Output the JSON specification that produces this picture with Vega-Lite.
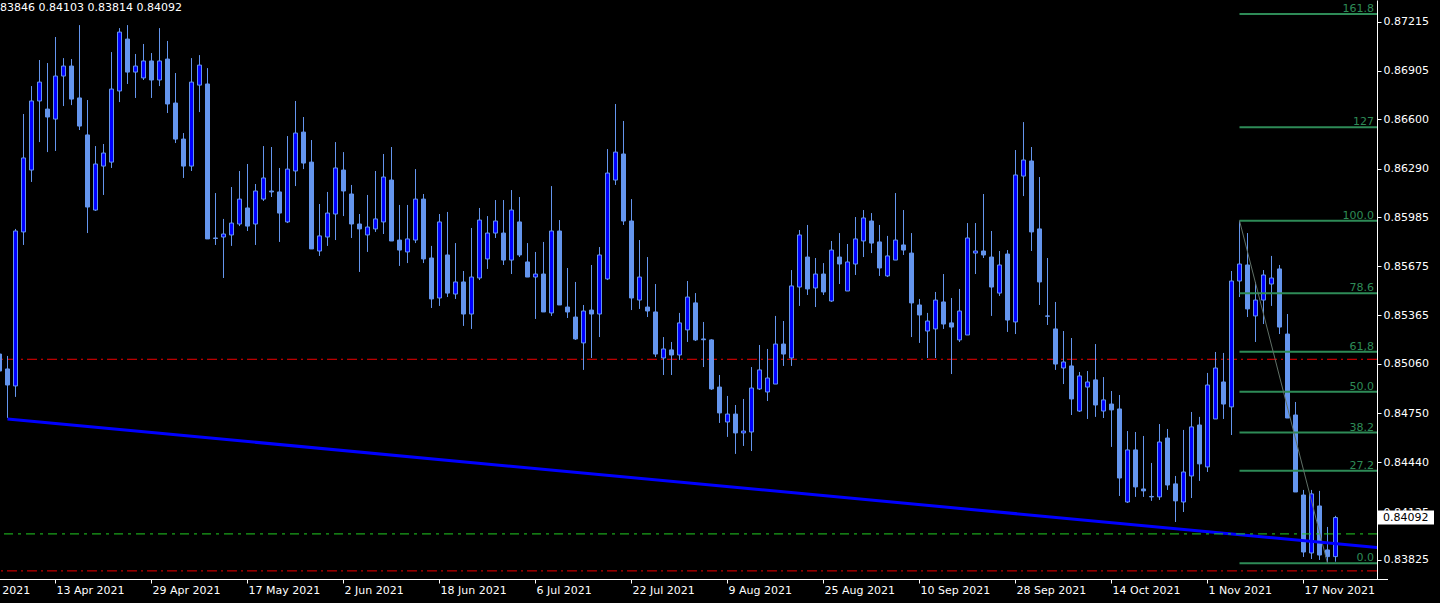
{
"$schema": "https://vega.github.io/schema/vega-lite/v6.json",
"width": 1377, "height": 579,
"autosize": {"type": "none"},
"padding": {"left": 0, "top": 0, "right": 63, "bottom": 24},
"background": "#000000",
"config": {"view": {"stroke": null}, "axis": {"grid": false}},
"title": {"text": "0.83846 0.84103 0.83814 0.84092", "anchor": "start", "frame": "group", "orient": "top", "offset": -22, "dx": -10.5, "color": "#ffffff", "font": "DejaVu Sans", "fontSize": 11, "fontWeight": "normal", "baseline": "alphabetic"},
"datasets": {
"candles": [
{"d":"2021-04-02","o":0.85122,"h":0.85148,"l":0.84990,"c":0.85015},
{"d":"2021-04-05","o":0.85028,"h":0.85110,"l":0.84719,"c":0.84927},
{"d":"2021-04-06","o":0.84921,"h":0.85910,"l":0.84852,"c":0.85897},
{"d":"2021-04-07","o":0.85891,"h":0.86634,"l":0.85809,"c":0.86357},
{"d":"2021-04-08","o":0.86281,"h":0.86810,"l":0.86206,"c":0.86716},
{"d":"2021-04-09","o":0.86716,"h":0.86974,"l":0.86457,"c":0.86835},
{"d":"2021-04-12","o":0.86665,"h":0.86955,"l":0.86394,"c":0.86615},
{"d":"2021-04-13","o":0.86602,"h":0.87119,"l":0.86401,"c":0.86873},
{"d":"2021-04-14","o":0.86873,"h":0.86986,"l":0.86684,"c":0.86936},
{"d":"2021-04-15","o":0.86936,"h":0.86980,"l":0.86690,"c":0.86728},
{"d":"2021-04-16","o":0.86735,"h":0.87194,"l":0.86533,"c":0.86558},
{"d":"2021-04-19","o":0.86502,"h":0.86722,"l":0.85884,"c":0.86048},
{"d":"2021-04-20","o":0.86029,"h":0.86432,"l":0.86023,"c":0.86319},
{"d":"2021-04-21","o":0.86306,"h":0.86445,"l":0.86124,"c":0.86388},
{"d":"2021-04-22","o":0.86331,"h":0.87024,"l":0.86294,"c":0.86791},
{"d":"2021-04-23","o":0.86779,"h":0.87175,"l":0.86709,"c":0.87150},
{"d":"2021-04-26","o":0.87106,"h":0.87194,"l":0.86823,"c":0.86898},
{"d":"2021-04-27","o":0.86898,"h":0.87012,"l":0.86735,"c":0.86936},
{"d":"2021-04-28","o":0.86861,"h":0.87075,"l":0.86848,"c":0.86968},
{"d":"2021-04-29","o":0.86968,"h":0.87018,"l":0.86735,"c":0.86848},
{"d":"2021-04-30","o":0.86848,"h":0.87175,"l":0.86810,"c":0.86968},
{"d":"2021-05-03","o":0.86980,"h":0.87094,"l":0.86640,"c":0.86697},
{"d":"2021-05-04","o":0.86703,"h":0.86892,"l":0.86451,"c":0.86476},
{"d":"2021-05-05","o":0.86476,"h":0.86514,"l":0.86231,"c":0.86306},
{"d":"2021-05-06","o":0.86306,"h":0.86986,"l":0.86275,"c":0.86835},
{"d":"2021-05-07","o":0.86816,"h":0.87005,"l":0.86646,"c":0.86942},
{"d":"2021-05-10","o":0.86823,"h":0.86923,"l":0.85847,"c":0.85847},
{"d":"2021-05-11","o":0.85853,"h":0.86136,"l":0.85809,"c":0.85850},
{"d":"2021-05-12","o":0.85859,"h":0.85973,"l":0.85601,"c":0.85878},
{"d":"2021-05-13","o":0.85872,"h":0.86174,"l":0.85803,"c":0.85947},
{"d":"2021-05-14","o":0.85941,"h":0.86275,"l":0.85928,"c":0.86098},
{"d":"2021-05-17","o":0.86042,"h":0.86319,"l":0.85897,"c":0.85928},
{"d":"2021-05-18","o":0.85941,"h":0.86193,"l":0.85809,"c":0.86149},
{"d":"2021-05-19","o":0.86098,"h":0.86432,"l":0.86086,"c":0.86231},
{"d":"2021-05-20","o":0.86149,"h":0.86426,"l":0.86111,"c":0.86143},
{"d":"2021-05-21","o":0.86143,"h":0.86294,"l":0.85828,"c":0.86010},
{"d":"2021-05-24","o":0.85954,"h":0.86495,"l":0.85947,"c":0.86287},
{"d":"2021-05-25","o":0.86275,"h":0.86716,"l":0.86180,"c":0.86514},
{"d":"2021-05-26","o":0.86520,"h":0.86615,"l":0.86287,"c":0.86325},
{"d":"2021-05-27","o":0.86331,"h":0.86470,"l":0.85784,"c":0.85784},
{"d":"2021-05-28","o":0.85771,"h":0.86067,"l":0.85740,"c":0.85866},
{"d":"2021-05-31","o":0.85859,"h":0.86143,"l":0.85803,"c":0.86010},
{"d":"2021-06-01","o":0.86004,"h":0.86457,"l":0.85840,"c":0.86294},
{"d":"2021-06-02","o":0.86281,"h":0.86394,"l":0.85991,"c":0.86149},
{"d":"2021-06-03","o":0.86130,"h":0.86187,"l":0.85853,"c":0.85941},
{"d":"2021-06-04","o":0.85941,"h":0.86004,"l":0.85639,"c":0.85910},
{"d":"2021-06-07","o":0.85872,"h":0.86124,"l":0.85765,"c":0.85922},
{"d":"2021-06-08","o":0.85910,"h":0.86275,"l":0.85891,"c":0.85973},
{"d":"2021-06-09","o":0.85954,"h":0.86382,"l":0.85878,"c":0.86237},
{"d":"2021-06-10","o":0.86218,"h":0.86426,"l":0.85834,"c":0.85834},
{"d":"2021-06-11","o":0.85840,"h":0.86061,"l":0.85677,"c":0.85777},
{"d":"2021-06-14","o":0.85765,"h":0.86061,"l":0.85695,"c":0.85847},
{"d":"2021-06-15","o":0.85840,"h":0.86287,"l":0.85821,"c":0.86098},
{"d":"2021-06-16","o":0.86098,"h":0.86130,"l":0.85695,"c":0.85721},
{"d":"2021-06-17","o":0.85727,"h":0.85803,"l":0.85412,"c":0.85469},
{"d":"2021-06-18","o":0.85475,"h":0.86004,"l":0.85425,"c":0.85954},
{"d":"2021-06-21","o":0.85746,"h":0.86017,"l":0.85481,"c":0.85506},
{"d":"2021-06-22","o":0.85500,"h":0.85821,"l":0.85469,"c":0.85576},
{"d":"2021-06-23","o":0.85576,"h":0.85645,"l":0.85299,"c":0.85374},
{"d":"2021-06-24","o":0.85374,"h":0.85916,"l":0.85280,"c":0.85607},
{"d":"2021-06-25","o":0.85601,"h":0.86042,"l":0.85588,"c":0.85966},
{"d":"2021-06-28","o":0.85721,"h":0.85991,"l":0.85658,"c":0.85884},
{"d":"2021-06-29","o":0.85884,"h":0.86092,"l":0.85853,"c":0.85960},
{"d":"2021-06-30","o":0.85884,"h":0.86092,"l":0.85683,"c":0.85714},
{"d":"2021-07-01","o":0.85714,"h":0.86155,"l":0.85626,"c":0.86029},
{"d":"2021-07-02","o":0.85954,"h":0.86111,"l":0.85733,"c":0.85746},
{"d":"2021-07-05","o":0.85702,"h":0.85821,"l":0.85607,"c":0.85607},
{"d":"2021-07-06","o":0.85607,"h":0.85765,"l":0.85343,"c":0.85626},
{"d":"2021-07-07","o":0.85626,"h":0.85828,"l":0.85387,"c":0.85387},
{"d":"2021-07-08","o":0.85381,"h":0.86180,"l":0.85362,"c":0.85897},
{"d":"2021-07-09","o":0.85897,"h":0.85966,"l":0.85431,"c":0.85431},
{"d":"2021-07-12","o":0.85418,"h":0.85664,"l":0.85349,"c":0.85387},
{"d":"2021-07-13","o":0.85355,"h":0.85576,"l":0.85211,"c":0.85217},
{"d":"2021-07-14","o":0.85192,"h":0.85431,"l":0.85022,"c":0.85393},
{"d":"2021-07-15","o":0.85399,"h":0.85683,"l":0.85097,"c":0.85374},
{"d":"2021-07-16","o":0.85374,"h":0.85796,"l":0.85229,"c":0.85746},
{"d":"2021-07-19","o":0.85595,"h":0.86413,"l":0.85588,"c":0.86262},
{"d":"2021-07-20","o":0.86218,"h":0.86697,"l":0.86187,"c":0.86394},
{"d":"2021-07-21","o":0.86382,"h":0.86590,"l":0.85935,"c":0.85960},
{"d":"2021-07-22","o":0.85960,"h":0.86098,"l":0.85399,"c":0.85475},
{"d":"2021-07-23","o":0.85462,"h":0.85840,"l":0.85406,"c":0.85607},
{"d":"2021-07-26","o":0.85418,"h":0.85733,"l":0.85355,"c":0.85393},
{"d":"2021-07-27","o":0.85387,"h":0.85563,"l":0.85103,"c":0.85122},
{"d":"2021-07-28","o":0.85097,"h":0.85229,"l":0.84990,"c":0.85154},
{"d":"2021-07-29","o":0.85148,"h":0.85198,"l":0.84990,"c":0.85116},
{"d":"2021-07-30","o":0.85116,"h":0.85381,"l":0.85085,"c":0.85318},
{"d":"2021-08-02","o":0.85274,"h":0.85582,"l":0.85198,"c":0.85481},
{"d":"2021-08-03","o":0.85444,"h":0.85506,"l":0.85204,"c":0.85211},
{"d":"2021-08-04","o":0.85217,"h":0.85324,"l":0.85040,"c":0.85212},
{"d":"2021-08-05","o":0.85211,"h":0.85215,"l":0.84896,"c":0.84902},
{"d":"2021-08-06","o":0.84914,"h":0.84990,"l":0.84688,"c":0.84751},
{"d":"2021-08-09","o":0.84694,"h":0.84858,"l":0.84600,"c":0.84744},
{"d":"2021-08-10","o":0.84744,"h":0.84801,"l":0.84493,"c":0.84625},
{"d":"2021-08-11","o":0.84625,"h":0.84839,"l":0.84543,"c":0.84637},
{"d":"2021-08-12","o":0.84631,"h":0.85040,"l":0.84511,"c":0.84908},
{"d":"2021-08-13","o":0.84902,"h":0.85179,"l":0.84896,"c":0.85022},
{"d":"2021-08-16","o":0.84883,"h":0.85154,"l":0.84826,"c":0.84971},
{"d":"2021-08-17","o":0.84933,"h":0.85362,"l":0.84933,"c":0.85185},
{"d":"2021-08-18","o":0.85185,"h":0.85330,"l":0.85047,"c":0.85122},
{"d":"2021-08-19","o":0.85097,"h":0.85651,"l":0.85047,"c":0.85551},
{"d":"2021-08-20","o":0.85544,"h":0.85903,"l":0.85425,"c":0.85872},
{"d":"2021-08-23","o":0.85733,"h":0.85935,"l":0.85494,"c":0.85532},
{"d":"2021-08-24","o":0.85538,"h":0.85727,"l":0.85418,"c":0.85626},
{"d":"2021-08-25","o":0.85626,"h":0.85695,"l":0.85494,"c":0.85513},
{"d":"2021-08-26","o":0.85456,"h":0.85834,"l":0.85450,"c":0.85777},
{"d":"2021-08-27","o":0.85733,"h":0.85884,"l":0.85563,"c":0.85689},
{"d":"2021-08-30","o":0.85519,"h":0.85815,"l":0.85519,"c":0.85702},
{"d":"2021-08-31","o":0.85689,"h":0.85985,"l":0.85620,"c":0.85847},
{"d":"2021-09-01","o":0.85834,"h":0.86029,"l":0.85733,"c":0.85979},
{"d":"2021-09-02","o":0.85960,"h":0.86010,"l":0.85758,"c":0.85821},
{"d":"2021-09-03","o":0.85828,"h":0.85935,"l":0.85614,"c":0.85664},
{"d":"2021-09-06","o":0.85614,"h":0.85866,"l":0.85607,"c":0.85740},
{"d":"2021-09-07","o":0.85714,"h":0.86136,"l":0.85714,"c":0.85840},
{"d":"2021-09-08","o":0.85809,"h":0.86029,"l":0.85746,"c":0.85777},
{"d":"2021-09-09","o":0.85758,"h":0.85884,"l":0.85229,"c":0.85444},
{"d":"2021-09-10","o":0.85431,"h":0.85469,"l":0.85192,"c":0.85368},
{"d":"2021-09-13","o":0.85267,"h":0.85381,"l":0.85097,"c":0.85330},
{"d":"2021-09-14","o":0.85280,"h":0.85513,"l":0.85097,"c":0.85462},
{"d":"2021-09-15","o":0.85450,"h":0.85626,"l":0.85280,"c":0.85311},
{"d":"2021-09-16","o":0.85318,"h":0.85475,"l":0.84996,"c":0.85292},
{"d":"2021-09-17","o":0.85211,"h":0.85532,"l":0.85198,"c":0.85393},
{"d":"2021-09-20","o":0.85242,"h":0.85947,"l":0.85242,"c":0.85853},
{"d":"2021-09-21","o":0.85758,"h":0.85947,"l":0.85626,"c":0.85771},
{"d":"2021-09-22","o":0.85771,"h":0.86130,"l":0.85727,"c":0.85746},
{"d":"2021-09-23","o":0.85733,"h":0.85897,"l":0.85362,"c":0.85544},
{"d":"2021-09-24","o":0.85506,"h":0.85771,"l":0.85488,"c":0.85683},
{"d":"2021-09-27","o":0.85752,"h":0.85777,"l":0.85261,"c":0.85336},
{"d":"2021-09-28","o":0.85324,"h":0.86407,"l":0.85248,"c":0.86250},
{"d":"2021-09-29","o":0.86243,"h":0.86583,"l":0.86117,"c":0.86344},
{"d":"2021-09-30","o":0.86338,"h":0.86426,"l":0.85771,"c":0.85891},
{"d":"2021-10-01","o":0.85910,"h":0.86237,"l":0.85431,"c":0.85576},
{"d":"2021-10-04","o":0.85362,"h":0.85727,"l":0.85305,"c":0.85360},
{"d":"2021-10-05","o":0.85280,"h":0.85450,"l":0.85022,"c":0.85059},
{"d":"2021-10-06","o":0.85034,"h":0.85267,"l":0.84933,"c":0.85072},
{"d":"2021-10-07","o":0.85047,"h":0.85223,"l":0.84738,"c":0.84839},
{"d":"2021-10-08","o":0.84763,"h":0.85009,"l":0.84757,"c":0.84984},
{"d":"2021-10-11","o":0.84914,"h":0.85015,"l":0.84713,"c":0.84946},
{"d":"2021-10-12","o":0.84959,"h":0.85185,"l":0.84726,"c":0.84801},
{"d":"2021-10-13","o":0.84763,"h":0.84977,"l":0.84719,"c":0.84833},
{"d":"2021-10-14","o":0.84807,"h":0.84889,"l":0.84537,"c":0.84770},
{"d":"2021-10-15","o":0.84776,"h":0.84864,"l":0.84228,"c":0.84341},
{"d":"2021-10-18","o":0.84190,"h":0.84637,"l":0.84184,"c":0.84518},
{"d":"2021-10-19","o":0.84518,"h":0.84631,"l":0.84222,"c":0.84285},
{"d":"2021-10-20","o":0.84272,"h":0.84606,"l":0.84222,"c":0.84260},
{"d":"2021-10-21","o":0.84225,"h":0.84436,"l":0.84197,"c":0.84222},
{"d":"2021-10-22","o":0.84222,"h":0.84681,"l":0.84203,"c":0.84568},
{"d":"2021-10-25","o":0.84593,"h":0.84650,"l":0.84266,"c":0.84297},
{"d":"2021-10-26","o":0.84304,"h":0.84354,"l":0.84064,"c":0.84197},
{"d":"2021-10-27","o":0.84190,"h":0.84644,"l":0.84127,"c":0.84379},
{"d":"2021-10-28","o":0.84354,"h":0.84757,"l":0.84215,"c":0.84663},
{"d":"2021-10-29","o":0.84675,"h":0.84726,"l":0.84323,"c":0.84430},
{"d":"2021-11-01","o":0.84411,"h":0.85003,"l":0.84379,"c":0.84927},
{"d":"2021-11-02","o":0.84713,"h":0.85135,"l":0.84713,"c":0.85034},
{"d":"2021-11-03","o":0.84946,"h":0.85129,"l":0.84713,"c":0.84807},
{"d":"2021-11-04","o":0.84789,"h":0.85645,"l":0.84612,"c":0.85582},
{"d":"2021-11-05","o":0.85582,"h":0.85962,"l":0.85481,"c":0.85689},
{"d":"2021-11-08","o":0.85683,"h":0.85884,"l":0.85355,"c":0.85406},
{"d":"2021-11-09","o":0.85362,"h":0.85576,"l":0.85198,"c":0.85462},
{"d":"2021-11-10","o":0.85462,"h":0.85651,"l":0.85311,"c":0.85620},
{"d":"2021-11-11","o":0.85563,"h":0.85740,"l":0.85425,"c":0.85601},
{"d":"2021-11-12","o":0.85658,"h":0.85683,"l":0.85248,"c":0.85292},
{"d":"2021-11-15","o":0.85248,"h":0.85374,"l":0.84719,"c":0.84719},
{"d":"2021-11-16","o":0.84738,"h":0.84820,"l":0.84253,"c":0.84253},
{"d":"2021-11-17","o":0.84234,"h":0.84266,"l":0.83844,"c":0.83875},
{"d":"2021-11-18","o":0.83869,"h":0.84266,"l":0.83831,"c":0.84241},
{"d":"2021-11-19","o":0.84165,"h":0.84260,"l":0.83825,"c":0.83856},
{"d":"2021-11-22","o":0.83888,"h":0.84033,"l":0.83804,"c":0.83846},
{"d":"2021-11-23","o":0.83846,"h":0.84103,"l":0.83814,"c":0.84092}
],
"fib": [
{"lvl":"161.8","p":0.87264},{"lvl":"127","p":0.86550},{"lvl":"100.0","p":0.85962},{"lvl":"78.6","p":0.85505},{"lvl":"61,8","p":0.85137},{"lvl":"50.0","p":0.84885},{"lvl":"38.2","p":0.84627},{"lvl":"27.2","p":0.84387},{"lvl":"0.0","p":0.83804}
],
"hlines": [{"p":0.85089,"kind":"red"},{"p":0.83756,"kind":"red"},{"p":0.83989,"kind":"green"}],
"trend": [{"d":"2021-04-05","p":0.84713},{"d":"2021-12-01","p":0.83899}],
"fibdiag": [{"d":"2021-11-05","p":0.85962},{"d":"2021-11-22","p":0.83804}],
"last": [{"p":0.84092}]
},
"layer": [
{"data": {"name": "hlines"}, "transform": [{"filter": "datum.kind == 'red'"}],
 "mark": {"type": "rule", "color": "#F00000", "strokeWidth": 1, "strokeDash": [10, 4, 2, 4]},
 "encoding": {"y": {"field": "p", "type": "quantitative", "scale": {"domain": [0.83705, 0.87352], "nice": false, "zero": false}}}},
{"data": {"name": "candles"},
 "mark": {"type": "rule", "color": "#6495ED", "strokeWidth": 1},
 "encoding": {
  "x": {"field": "d", "type": "ordinal",
   "scale": {"type": "band", "paddingInner": 0, "paddingOuter": 0, "range": [-44.5, 1387.5],
    "domain": ["2021-03-26","2021-03-29","2021-03-30","2021-03-31","2021-04-01","2021-04-02","2021-04-05","2021-04-06","2021-04-07","2021-04-08","2021-04-09","2021-04-12","2021-04-13","2021-04-14","2021-04-15","2021-04-16","2021-04-19","2021-04-20","2021-04-21","2021-04-22","2021-04-23","2021-04-26","2021-04-27","2021-04-28","2021-04-29","2021-04-30","2021-05-03","2021-05-04","2021-05-05","2021-05-06","2021-05-07","2021-05-10","2021-05-11","2021-05-12","2021-05-13","2021-05-14","2021-05-17","2021-05-18","2021-05-19","2021-05-20","2021-05-21","2021-05-24","2021-05-25","2021-05-26","2021-05-27","2021-05-28","2021-05-31","2021-06-01","2021-06-02","2021-06-03","2021-06-04","2021-06-07","2021-06-08","2021-06-09","2021-06-10","2021-06-11","2021-06-14","2021-06-15","2021-06-16","2021-06-17","2021-06-18","2021-06-21","2021-06-22","2021-06-23","2021-06-24","2021-06-25","2021-06-28","2021-06-29","2021-06-30","2021-07-01","2021-07-02","2021-07-05","2021-07-06","2021-07-07","2021-07-08","2021-07-09","2021-07-12","2021-07-13","2021-07-14","2021-07-15","2021-07-16","2021-07-19","2021-07-20","2021-07-21","2021-07-22","2021-07-23","2021-07-26","2021-07-27","2021-07-28","2021-07-29","2021-07-30","2021-08-02","2021-08-03","2021-08-04","2021-08-05","2021-08-06","2021-08-09","2021-08-10","2021-08-11","2021-08-12","2021-08-13","2021-08-16","2021-08-17","2021-08-18","2021-08-19","2021-08-20","2021-08-23","2021-08-24","2021-08-25","2021-08-26","2021-08-27","2021-08-30","2021-08-31","2021-09-01","2021-09-02","2021-09-03","2021-09-06","2021-09-07","2021-09-08","2021-09-09","2021-09-10","2021-09-13","2021-09-14","2021-09-15","2021-09-16","2021-09-17","2021-09-20","2021-09-21","2021-09-22","2021-09-23","2021-09-24","2021-09-27","2021-09-28","2021-09-29","2021-09-30","2021-10-01","2021-10-04","2021-10-05","2021-10-06","2021-10-07","2021-10-08","2021-10-11","2021-10-12","2021-10-13","2021-10-14","2021-10-15","2021-10-18","2021-10-19","2021-10-20","2021-10-21","2021-10-22","2021-10-25","2021-10-26","2021-10-27","2021-10-28","2021-10-29","2021-11-01","2021-11-02","2021-11-03","2021-11-04","2021-11-05","2021-11-08","2021-11-09","2021-11-10","2021-11-11","2021-11-12","2021-11-15","2021-11-16","2021-11-17","2021-11-18","2021-11-19","2021-11-22","2021-11-23","2021-11-24","2021-11-25","2021-11-26","2021-11-29","2021-11-30","2021-12-01"]},
   "axis": {"orient": "bottom", "title": null, "grid": false, "labelAngle": 0,
    "values": ["2021-03-26","2021-04-13","2021-04-29","2021-05-17","2021-06-02","2021-06-18","2021-07-06","2021-07-22","2021-08-09","2021-08-25","2021-09-10","2021-09-28","2021-10-14","2021-11-01","2021-11-17"],
    "labelExpr": "utcFormat(utcParse(datum.value, '%Y-%m-%d'), '%-d %b %Y')",
    "labelAlign": "left", "labelOffset": 1, "labelPadding": 1, "labelBaseline": "top",
    "labelColor": "#ffffff", "labelFont": "DejaVu Sans", "labelFontSize": 11,
    "tickColor": "#ffffff", "tickSize": 4, "domainColor": "#ffffff",
    "labelOverlap": false, "labelFlush": false, "labelBound": false}},
  "y": {"field": "l", "type": "quantitative",
   "scale": {"domain": [0.83705, 0.87352], "nice": false, "zero": false},
   "axis": {"orient": "right", "title": null, "grid": false,
    "values": [0.87215, 0.86905, 0.866, 0.8629, 0.85985, 0.85675, 0.85365, 0.8506, 0.8475, 0.8444, 0.84125, 0.83825],
    "format": ".5f", "labelColor": "#ffffff", "labelFont": "DejaVu Sans", "labelFontSize": 11,
    "tickColor": "#ffffff", "tickSize": 4, "labelPadding": 2, "domainColor": "#ffffff",
    "labelFlush": false, "labelOverlap": false}},
  "y2": {"field": "h"}}},
{"data": {"name": "candles"},
 "mark": {"type": "bar", "width": 4, "stroke": "#6495ED", "strokeWidth": 1},
 "encoding": {
  "x": {"field": "d", "type": "ordinal"},
  "y": {"field": "o", "type": "quantitative", "scale": {"domain": [0.83705, 0.87352], "nice": false, "zero": false}},
  "y2": {"field": "c"},
  "fill": {"condition": {"test": "datum.c >= datum.o", "value": "#0000FF"}, "value": "#6495ED"}}},
{"data": {"name": "fib"},
 "mark": {"type": "rule", "color": "#2E8B57", "strokeWidth": 2},
 "encoding": {
  "x": {"datum": "2021-11-05", "type": "ordinal"},
  "x2": {"value": "width"},
  "y": {"field": "p", "type": "quantitative", "scale": {"domain": [0.83705, 0.87352], "nice": false, "zero": false}}}},
{"data": {"name": "fib"},
 "mark": {"type": "text", "color": "#2E8B57", "font": "DejaVu Sans", "fontSize": 11, "align": "right", "baseline": "alphabetic", "dx": -3, "dy": -2},
 "encoding": {
  "x": {"value": "width"},
  "y": {"field": "p", "type": "quantitative", "scale": {"domain": [0.83705, 0.87352], "nice": false, "zero": false}},
  "text": {"field": "lvl"}}},
{"data": {"name": "fibdiag"},
 "mark": {"type": "line", "color": "#5f6f66", "strokeWidth": 1},
 "encoding": {
  "x": {"field": "d", "type": "ordinal"},
  "y": {"field": "p", "type": "quantitative", "scale": {"domain": [0.83705, 0.87352], "nice": false, "zero": false}}}},
{"data": {"name": "trend"},
 "mark": {"type": "line", "color": "#0000FF", "strokeWidth": 3, "clip": true},
 "encoding": {
  "x": {"field": "d", "type": "ordinal"},
  "y": {"field": "p", "type": "quantitative", "scale": {"domain": [0.83705, 0.87352], "nice": false, "zero": false}}}},
{"data": {"name": "hlines"}, "transform": [{"filter": "datum.kind == 'green'"}],
 "mark": {"type": "rule", "color": "#22CC22", "strokeWidth": 1, "strokeDash": [9, 5, 3, 5]},
 "encoding": {"y": {"field": "p", "type": "quantitative", "scale": {"domain": [0.83705, 0.87352], "nice": false, "zero": false}}}},
{"data": {"name": "last"},
 "mark": {"type": "rect", "color": "#ffffff", "xOffset": 1, "x2Offset": 57, "yOffset": -7, "y2Offset": 7},
 "encoding": {
  "x": {"value": "width"}, "x2": {"value": "width"},
  "y": {"field": "p", "type": "quantitative", "scale": {"domain": [0.83705, 0.87352], "nice": false, "zero": false}},
  "y2": {"field": "p"}}},
{"data": {"name": "last"},
 "mark": {"type": "text", "color": "#000000", "font": "DejaVu Sans", "fontSize": 11, "align": "left", "baseline": "middle", "dx": 6},
 "encoding": {
  "x": {"value": "width"},
  "y": {"field": "p", "type": "quantitative", "scale": {"domain": [0.83705, 0.87352], "nice": false, "zero": false}},
  "text": {"field": "p", "type": "quantitative", "format": ".5f"}}}
]
}
